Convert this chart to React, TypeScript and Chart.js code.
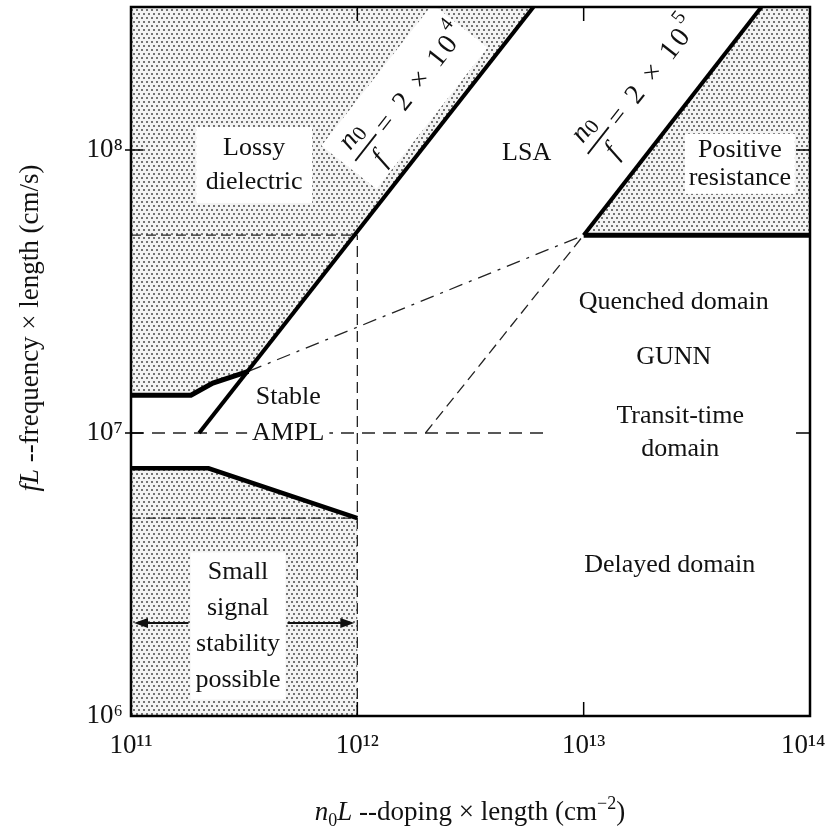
import React, { useEffect, useRef } from "react";
import { Chart, registerables } from "chart.js";

Chart.register(...registerables);

const FONT = '"Liberation Serif", "DejaVu Serif", "Times New Roman", serif';

// ---- axes ----
const xDecades = [1e11, 1e12, 1e13, 1e14];
const yDecades = [1e6, 1e7, 1e8];
const xTickLabels = ["10¹¹", "10¹²", "10¹³", "10¹⁴  "];
const yTickLabels = ["10⁶", "10⁷", "10⁸"];
const xRange = [1e11, 1e14];
const yRange = [1e6, 3.2e8];

// ---- thick boundary lines (n0L, fL) ----
const ratio2e4X = [2e11, 6e12];
const ratio2e4Y = [1e7, 3.2e8];
const ratio2e5X = [1e13, 6.1e13];
const ratio2e5Y = [5e7, 3.2e8];
const posResBaseX = [1e13, 1e14];
const posResBaseY = [5e7, 5e7];
const upperEdgeX = [1e11, 1.84e11, 2.3e11, 3.3e11];
const upperEdgeY = [1.36e7, 1.36e7, 1.5e7, 1.65e7];
const lowerEdgeX = [1e11, 2.2e11, 1e12];
const lowerEdgeY = [7.5e6, 7.5e6, 5e6];

// ---- dashed guide lines ----
const dash5e7X = [1e11, 1e12];
const dash5e7Y = [5e7, 5e7];
const dash5e6X = [1e11, 1e12];
const dash5e6Y = [5e6, 5e6];
const dashVertX = [1e12, 1e12];
const dashVertY = [1e6, 5e7];
const dash1e7X = [1e11, 6.8e12];
const dash1e7Y = [1e7, 1e7];
const quenchX = [3.3e11, 1e13];
const quenchY = [1.65e7, 5e7];
const transitX = [2e12, 1e13];
const transitY = [1e7, 5e7];

// ---- shaded regions ----
const lossyX = [1e11, 1.84e11, 2.3e11, 3.3e11, 6e12, 1e11];
const lossyY = [1.36e7, 1.36e7, 1.5e7, 1.65e7, 3.2e8, 3.2e8];
const smallSigX = [1e11, 1e11, 2.2e11, 1e12, 1e12];
const smallSigY = [1e6, 7.5e6, 7.5e6, 5e6, 1e6];
const posResX = [1e13, 6.1e13, 1e14, 1e14];
const posResY = [5e7, 3.2e8, 3.2e8, 5e7];

// ---- region labels ----
const regionLabels = [
  ["Lossy", "dielectric"],
  ["Positive", "resistance"],
  ["LSA"],
  ["Stable", "AMPL"],
  ["Quenched domain"],
  ["GUNN"],
  ["Transit-time", "domain"],
  ["Delayed domain"],
  ["Small", "signal", "stability", "possible"],
];
const regionLabelX = [3.5e11, 4.9e13, 5.6e12, 4.95e11, 2.5e13, 2.5e13, 2.67e13, 2.4e13, 2.97e11];
const regionLabelY = [8.85e7, 8.93e7, 9.75e7, 1.16e7, 2.9e7, 1.86e7, 1e7, 3.42e6, 2.08e6];

// ---- n0/f ratio labels ----
const ratioExponents = ["4", "5"];
const ratioLabelX = [1.09e12, 1.16e13];
const ratioLabelY = [1.02e8, 1.08e8];

// ---- small-signal arrows ----
const arrowFL = 2.13e6;
const arrowEnds = [1e11, 1e12];

// styles for labels (px)
const labelStyle: any[] = [
  { lh: 34, box: [116, 76] },
  { lh: 28, box: [110, 60] },
  {},
  { lh: 36, tight: true },
  {},
  {},
  { lh: 33 },
  {},
  { lh: 36, box: [95, 147] },
];

const pts = (xs: number[], ys: number[]) => xs.map((x, i) => ({ x, y: ys[i] }));

function makeStipple(): any {
  const c = document.createElement("canvas");
  c.width = 10;
  c.height = 8;
  const g = c.getContext("2d")!;
  g.fillStyle = "#f3f3f3";
  g.fillRect(0, 0, 10, 8);
  g.fillStyle = "#747474";
  g.fillRect(1, 1, 2, 2);
  g.fillRect(6, 1, 2, 2);
  g.fillRect(3, 5, 2, 2);
  g.fillRect(8, 5, 2, 2);
  return g.createPattern(c, "repeat") || "#d8d8d8";
}

type Part = { t: string; f: string; dy?: number };
function drawParts(ctx: CanvasRenderingContext2D, parts: Part[], x: number, y: number) {
  let total = 0;
  const widths = parts.map((p) => {
    ctx.font = `${p.f} ${FONT}`;
    const w = ctx.measureText(p.t).width;
    total += w;
    return w;
  });
  let cx = x - total / 2;
  ctx.textAlign = "left";
  ctx.textBaseline = "alphabetic";
  parts.forEach((p, i) => {
    ctx.font = `${p.f} ${FONT}`;
    ctx.fillText(p.t, cx, y + (p.dy || 0));
    cx += widths[i];
  });
}

const annotPlugin = {
  id: "gunnAnnot",
  beforeDraw(chart: any) {
    const { ctx, width, height } = chart;
    ctx.save();
    ctx.fillStyle = "#fff";
    ctx.fillRect(0, 0, width, height);
    ctx.restore();
  },
  afterDatasetsDraw(chart: any) {
    const ctx: CanvasRenderingContext2D = chart.ctx;
    const xs = chart.scales.x;
    const ys = chart.scales.y;
    const area = chart.chartArea;
    ctx.save();

    // region labels
    regionLabels.forEach((lines, i) => {
      const st = labelStyle[i] || {};
      const cx = xs.getPixelForValue(regionLabelX[i]);
      const cy = ys.getPixelForValue(regionLabelY[i]);
      const lh = st.lh || 30;
      ctx.font = `26px ${FONT}`;
      if (st.box) {
        ctx.fillStyle = "#fff";
        ctx.fillRect(cx - st.box[0] / 2, cy - st.box[1] / 2, st.box[0], st.box[1]);
      }
      lines.forEach((t, k) => {
        const y = cy + (k - (lines.length - 1) / 2) * lh;
        if (st.tight) {
          const w = ctx.measureText(t).width;
          ctx.fillStyle = "#fff";
          ctx.fillRect(cx - w / 2 - 5, y - 13, w + 10, 26);
        }
        ctx.fillStyle = "#111";
        ctx.textAlign = "center";
        ctx.textBaseline = "middle";
        ctx.fillText(t, cx, y);
      });
    });

    // arrows for small-signal region
    {
      const st = labelStyle[8];
      const cx = xs.getPixelForValue(regionLabelX[8]);
      const ay = ys.getPixelForValue(arrowFL);
      const starts = [cx - st.box[0] / 2 - 2, cx + st.box[0] / 2 + 2];
      arrowEnds.forEach((v, k) => {
        const ex = xs.getPixelForValue(v) + (k === 0 ? 3 : -3);
        const sx = starts[k];
        const dir = Math.sign(ex - sx);
        ctx.strokeStyle = "#111";
        ctx.fillStyle = "#111";
        ctx.lineWidth = 2;
        ctx.setLineDash([]);
        ctx.beginPath();
        ctx.moveTo(sx, ay);
        ctx.lineTo(ex - dir * 10, ay);
        ctx.stroke();
        ctx.beginPath();
        ctx.moveTo(ex, ay);
        ctx.lineTo(ex - dir * 14, ay - 5);
        ctx.lineTo(ex - dir * 14, ay + 5);
        ctx.closePath();
        ctx.fill();
      });
    }

    // rotated n0/f labels
    const ang = Math.atan2(
      ys.getPixelForValue(ratio2e4Y[1]) - ys.getPixelForValue(ratio2e4Y[0]),
      xs.getPixelForValue(ratio2e4X[1]) - xs.getPixelForValue(ratio2e4X[0])
    );
    ratioExponents.forEach((e, i) => {
      const px = xs.getPixelForValue(ratioLabelX[i]);
      const py = ys.getPixelForValue(ratioLabelY[i]);
      ctx.save();
      ctx.beginPath();
      ctx.rect(area.left, area.top, area.right - area.left, area.bottom - area.top);
      ctx.clip();
      ctx.translate(px, py);
      ctx.rotate(ang);
      if (i === 0) {
        ctx.fillStyle = "#fff";
        ctx.fillRect(-26, -36, 180, 70);
      }
      ctx.fillStyle = "#111";
      ctx.strokeStyle = "#111";
      ctx.textBaseline = "alphabetic";
      ctx.textAlign = "left";
      ctx.font = `italic 28px ${FONT}`;
      const nW = ctx.measureText("n").width;
      ctx.font = `21px ${FONT}`;
      const zW = ctx.measureText("0").width;
      const numW = nW + zW;
      ctx.font = `italic 28px ${FONT}`;
      ctx.fillText("n", -numW / 2, -10);
      ctx.font = `21px ${FONT}`;
      ctx.fillText("0", -numW / 2 + nW, -7);
      ctx.lineWidth = 1.8;
      ctx.beginPath();
      ctx.moveTo(-17, 0);
      ctx.lineTo(17, 0);
      ctx.stroke();
      ctx.font = `italic 28px ${FONT}`;
      ctx.textAlign = "center";
      ctx.fillText("f", 0, 26);
      ctx.textAlign = "left";
      ctx.font = `28px ${FONT}`;
      (ctx as any).letterSpacing = "3px";
      const s = "= 2 × 10";
      ctx.fillText(s, 23, 9);
      const w = ctx.measureText(s).width;
      (ctx as any).letterSpacing = "0px";
      ctx.font = `20px ${FONT}`;
      ctx.fillText(e, 23 + w, -7);
      ctx.restore();
    });

    // axis titles
    ctx.fillStyle = "#111";
    drawParts(
      ctx,
      [
        { t: "n", f: "italic 27px" },
        { t: "0", f: "18px", dy: 6 },
        { t: "L", f: "italic 27px" },
        { t: " --doping × length (cm", f: "27px" },
        { t: "−2", f: "18px", dy: -11 },
        { t: ")", f: "27px" },
      ],
      470,
      820
    );
    ctx.save();
    ctx.translate(38, 328);
    ctx.rotate(-Math.PI / 2);
    drawParts(
      ctx,
      [
        { t: "fL", f: "italic 27px" },
        { t: " --frequency × length (cm/s)", f: "27px" },
      ],
      0,
      0
    );
    ctx.restore();

    // frame
    ctx.strokeStyle = "#000";
    ctx.lineWidth = 2.5;
    ctx.setLineDash([]);
    ctx.strokeRect(area.left, area.top, area.right - area.left, area.bottom - area.top);

    // inward tick marks at decades
    ctx.lineWidth = 1.5;
    ctx.beginPath();
    xDecades.slice(1, -1).forEach((v) => {
      const x = xs.getPixelForValue(v);
      ctx.moveTo(x, area.bottom);
      ctx.lineTo(x, area.bottom - 14);
      ctx.moveTo(x, area.top);
      ctx.lineTo(x, area.top + 14);
    });
    yDecades.slice(1).forEach((v) => {
      const y = ys.getPixelForValue(v);
      ctx.moveTo(area.left - 6, y);
      ctx.lineTo(area.left + 12, y);
      ctx.moveTo(area.right, y);
      ctx.lineTo(area.right - 14, y);
    });
    ctx.stroke();
    ctx.restore();
  },
};

export default function App() {
  const ref = useRef<HTMLCanvasElement>(null);
  useEffect(() => {
    const canvas = ref.current!;
    const stipple = makeStipple();
    const thick = (xs: number[], ys: number[], w: number) => ({
      data: pts(xs, ys),
      showLine: true,
      borderColor: "#000",
      borderWidth: w,
      pointRadius: 0,
      fill: false,
      order: 1,
    });
    const dashed = (xs: number[], ys: number[], dash: number[]) => ({
      data: pts(xs, ys),
      showLine: true,
      borderColor: "#222",
      borderWidth: 1.3,
      borderDash: dash,
      pointRadius: 0,
      fill: false,
      order: 2,
    });
    const region = (xs: number[], ys: number[]) => ({
      data: pts(xs, ys),
      showLine: true,
      borderWidth: 0,
      borderColor: "rgba(0,0,0,0)",
      backgroundColor: stipple,
      pointRadius: 0,
      fill: "shape",
      order: 3,
    });
    const chart = new Chart(canvas, {
      type: "scatter",
      data: {
        datasets: [
          region(lossyX, lossyY),
          region(smallSigX, smallSigY),
          region(posResX, posResY),
          dashed(dash5e7X, dash5e7Y, [10, 5]),
          dashed(dash5e6X, dash5e6Y, [10, 5]),
          dashed(dashVertX, dashVertY, [11, 6]),
          dashed(dash1e7X, dash1e7Y, [13, 8]),
          dashed(quenchX, quenchY, [14, 7, 3, 7]),
          dashed(transitX, transitY, [11, 6]),
          thick(ratio2e4X, ratio2e4Y, 4),
          thick(ratio2e5X, ratio2e5Y, 4),
          thick(posResBaseX, posResBaseY, 5),
          thick(upperEdgeX, upperEdgeY, 5),
          thick(lowerEdgeX, lowerEdgeY, 4.5),
        ] as any,
      },
      options: {
        responsive: false,
        animation: false,
        layout: { padding: { left: 0, top: 7, right: 19, bottom: 0 } },
        plugins: {
          legend: { display: false },
          tooltip: { enabled: false },
        },
        scales: {
          x: {
            type: "logarithmic",
            min: xRange[0],
            max: xRange[1],
            grid: { display: false, drawTicks: false },
            border: { display: false },
            ticks: {
              autoSkip: false,
              maxRotation: 0,
              padding: 14,
              color: "#111",
              font: { family: FONT, size: 27 },
              callback: (_v: any, i: number) => xTickLabels[i],
            },
            afterBuildTicks: (s: any) => {
              s.ticks = xDecades.map((v) => ({ value: v }));
            },
            afterFit: (s: any) => {
              s.height = 118;
              s.paddingLeft = 0;
              s.paddingRight = 0;
            },
          },
          y: {
            type: "logarithmic",
            min: yRange[0],
            max: yRange[1],
            grid: { display: false, drawTicks: false },
            border: { display: false },
            ticks: {
              autoSkip: false,
              padding: 8,
              color: "#111",
              font: { family: FONT, size: 27 },
              callback: (_v: any, i: number) => yTickLabels[i],
            },
            afterBuildTicks: (s: any) => {
              s.ticks = yDecades.map((v) => ({ value: v }));
            },
            afterFit: (s: any) => {
              s.width = 131;
              s.paddingTop = 0;
              s.paddingBottom = 0;
            },
          },
        } as any,
      },
      plugins: [annotPlugin as any],
    });
    return () => chart.destroy();
  }, []);
  return (
    <div style={{ position: "absolute", left: 0, top: 0, width: 829, height: 834, background: "#fff" }}>
      <canvas ref={ref} width={829} height={834} style={{ width: 829, height: 834, display: "block" }} />
    </div>
  );
}
